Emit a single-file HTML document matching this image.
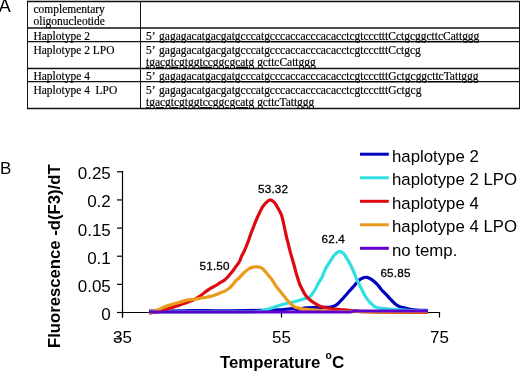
<!DOCTYPE html>
<html><head><meta charset="utf-8"><style>
html,body{margin:0;padding:0;background:#fff;width:520px;height:371px;overflow:hidden}
svg{display:block;will-change:transform}
</style></head><body>
<svg width="520" height="371" viewBox="0 0 520 371">
<rect width="520" height="371" fill="#fff"/>
<text x="-1.2" y="11.9" style="font-family:'Liberation Sans',sans-serif;font-size:18px" fill="#000">A</text>
<g stroke="#111" stroke-width="1" fill="none">
<line x1="27.0" y1="1.5" x2="520.0" y2="1.5" stroke-width="1.3"/>
<line x1="27.0" y1="28" x2="520.0" y2="28" stroke-width="1.3"/>
<line x1="27.0" y1="41.7" x2="520.0" y2="41.7" stroke-width="1.3"/>
<line x1="27.0" y1="68.5" x2="520.0" y2="68.5" stroke-width="1.3"/>
<line x1="27.0" y1="81.7" x2="520.0" y2="81.7" stroke-width="1.3"/>
<line x1="27.0" y1="108.5" x2="520.0" y2="108.5" stroke-width="1.3"/>
<line x1="27.5" y1="1.0" x2="27.5" y2="109.0" />
<line x1="519.5" y1="1.0" x2="519.5" y2="109.0" />
<line x1="140.5" y1="1.0" x2="140.5" y2="109.0" />
<line x1="27" y1="0.5" x2="520" y2="0.5" stroke="#bbb"/>
</g>
<g style="font-family:'Liberation Serif',serif;font-size:11.47px" fill="#000" stroke="#000" stroke-width="0.18">
<text x="33.5" y="12.8" >complementary</text>
<text x="33.5" y="24.6" >oligonucleotide</text>
<text x="33.5" y="40.0" >Haplotype 2</text>
<text x="33.5" y="53.7" >Haplotype 2 LPO</text>
<text x="33.5" y="80.1" >Haplotype 4</text>
<text x="33.5" y="94.0" >Haplotype 4&#160;&#160;LPO</text>
<text x="146.0" y="40.0">5’ <tspan dx="1.5" text-decoration="underline">gagagacatgacgatgcccatgcccaccacccacacctcgtccctttCctgcggcttcCattggg</tspan></text>
<text x="146.0" y="53.7">5’ <tspan dx="1.5">gagagacatgacgatgcccatgcccaccacccacacctcgtccctttCctgcg</tspan></text>
<text x="146.0" y="65.8"><tspan text-decoration="underline">tgacgtcgtggtccggcgcatg</tspan> gcttcCattggg</text>
<text x="146.0" y="80.1">5’ <tspan dx="1.5" text-decoration="underline">gagagacatgacgatgcccatgcccaccacccacacctcgtccctttGctgcggcttcTattggg</tspan></text>
<text x="146.0" y="94.0">5’ <tspan dx="1.5">gagagacatgacgatgcccatgcccaccacccacacctcgtccctttGctgcg</tspan></text>
<text x="146.0" y="106.2"><tspan text-decoration="underline">tgacgtcgtggtccggcgcatg</tspan> gcttcTattggg</text>
</g>
<line x1="113.8" y1="338.8" x2="122" y2="338.8" stroke="#000" stroke-width="1.2"/>
<text x="0.1" y="173.5" style="font-family:'Liberation Sans',sans-serif;font-size:17px" fill="#000">B</text>
<g stroke="#000" stroke-width="1.2" fill="none">
<line x1="122.5" y1="171" x2="122.5" y2="317.5"/>
<line x1="117" y1="312.5" x2="439.5" y2="312.5"/>
<line x1="117" y1="312.50" x2="122.5" y2="312.50"/>
<line x1="117" y1="284.36" x2="122.5" y2="284.36"/>
<line x1="117" y1="256.22" x2="122.5" y2="256.22"/>
<line x1="117" y1="228.08" x2="122.5" y2="228.08"/>
<line x1="117" y1="199.94" x2="122.5" y2="199.94"/>
<line x1="117" y1="171.80" x2="122.5" y2="171.80"/>
<line x1="122.5" y1="312" x2="122.5" y2="317.5"/>
<line x1="281.5" y1="312" x2="281.5" y2="317.5"/>
<line x1="439.5" y1="312" x2="439.5" y2="317.5"/>
</g>
<g style="font-family:'Liberation Sans',sans-serif;font-size:17px" fill="#000">
<text x="110.8" y="320.0" text-anchor="end">0</text>
<text x="110.8" y="291.9" text-anchor="end">0.05</text>
<text x="110.8" y="263.7" text-anchor="end">0.1</text>
<text x="110.8" y="235.6" text-anchor="end">0.15</text>
<text x="110.8" y="207.4" text-anchor="end">0.2</text>
<text x="110.8" y="179.3" text-anchor="end">0.25</text>
<text x="122.5" y="342.7" text-anchor="middle">35</text>
<text x="281.5" y="342.7" text-anchor="middle">55</text>
<text x="439.5" y="342.7" text-anchor="middle">75</text>
</g>
<g fill="none" stroke-width="3.2" stroke-linejoin="round" stroke-linecap="butt">
<path d="M149.0,311.0 C155.0,311.0 177.7,311.0 185.0,310.9 C192.3,310.8 188.0,310.6 193.0,310.6 C198.0,310.6 208.8,310.8 215.0,310.8 C221.2,310.8 222.5,310.9 230.0,310.8 C237.5,310.7 251.7,310.6 260.0,310.4 C268.3,310.2 274.6,310.1 280.0,309.8 C285.4,309.5 289.3,308.6 292.2,308.5 C295.1,308.4 294.9,309.4 297.3,309.3 C299.7,309.2 303.2,308.1 306.6,307.8 C310.1,307.5 314.1,307.6 318.0,307.5 C321.9,307.4 327.2,307.6 330.0,307.3 C332.8,307.0 333.6,306.3 335.0,305.6 C336.4,304.9 337.1,304.3 338.3,303.3 C339.5,302.3 340.8,300.7 342.0,299.4 C343.2,298.1 344.3,296.8 345.5,295.5 C346.7,294.2 347.8,292.8 349.0,291.5 C350.2,290.2 351.3,289.0 352.5,287.7 C353.7,286.4 354.9,284.9 356.0,283.6 C357.1,282.4 357.9,281.1 359.0,280.2 C360.1,279.2 361.5,278.4 362.8,277.9 C364.1,277.4 365.4,277.1 366.8,277.3 C368.2,277.5 369.7,278.2 371.4,279.3 C373.1,280.4 375.2,282.2 376.8,283.9 C378.4,285.5 379.5,287.4 381.1,289.2 C382.7,291.0 385.0,293.1 386.6,294.9 C388.2,296.6 389.4,298.2 390.9,299.7 C392.3,301.2 393.9,302.9 395.3,304.0 C396.8,305.1 398.2,306.0 399.6,306.6 C401.0,307.2 402.2,307.5 403.9,307.9 C405.6,308.3 407.8,308.8 410.0,309.2 C412.2,309.6 414.0,309.8 417.0,310.0 C420.0,310.2 426.2,310.4 428.0,310.5" stroke="#0000c0"/>
<path d="M149.0,311.9 C157.5,311.9 184.8,311.9 200.0,311.9 C215.2,311.9 231.3,311.9 240.0,311.9 C248.7,311.9 248.8,311.9 252.0,311.8 C255.2,311.7 257.0,311.5 259.0,311.3 C261.0,311.1 262.2,310.8 264.0,310.4 C265.8,309.9 267.8,309.3 270.0,308.6 C272.2,307.9 274.4,307.0 277.0,306.2 C279.6,305.4 281.9,304.7 285.4,303.8 C288.9,302.9 294.8,301.6 298.0,300.7 C301.2,299.8 302.9,299.3 304.9,298.6 C306.9,297.9 308.7,297.5 310.1,296.5 C311.5,295.5 312.2,294.2 313.2,292.7 C314.2,291.2 315.3,289.3 316.2,287.6 C317.1,285.9 317.9,284.2 318.8,282.5 C319.8,280.8 321.0,279.1 321.9,277.4 C322.8,275.7 323.1,274.2 323.9,272.5 C324.7,270.8 325.5,268.9 326.5,267.1 C327.5,265.3 328.9,263.3 330.1,261.5 C331.3,259.7 332.4,257.7 333.5,256.2 C334.6,254.7 335.9,253.4 337.0,252.6 C338.1,251.8 339.0,251.6 339.8,251.6 C340.6,251.6 341.3,251.9 342.0,252.3 C342.7,252.7 343.3,253.1 344.1,254.1 C344.9,255.1 345.8,256.6 346.7,258.2 C347.6,259.8 348.9,261.7 349.8,263.4 C350.7,265.1 351.5,266.8 352.3,268.5 C353.1,270.2 353.7,271.9 354.4,273.6 C355.1,275.3 355.7,277.2 356.4,278.7 C357.1,280.2 357.7,281.2 358.5,282.8 C359.3,284.4 360.3,286.4 361.2,288.2 C362.1,290.0 362.9,291.8 363.9,293.6 C364.9,295.4 365.8,297.1 367.1,298.9 C368.4,300.7 370.3,302.9 371.9,304.3 C373.5,305.8 374.8,306.9 376.8,307.6 C378.8,308.3 381.0,308.3 384.0,308.6 C387.0,308.9 390.7,309.2 395.0,309.5 C399.3,309.8 404.5,310.2 410.0,310.5 C415.5,310.8 425.0,310.9 428.0,311.0" stroke="#30e0e0"/>
<path d="M149.0,313.0 C150.2,312.8 153.8,312.4 156.0,312.0 C158.2,311.6 160.4,310.9 162.4,310.4 C164.4,309.8 166.1,309.3 168.0,308.7 C169.9,308.1 172.0,307.5 173.9,306.9 C175.8,306.3 177.8,305.6 179.7,305.0 C181.6,304.4 183.8,303.6 185.5,303.0 C187.2,302.4 188.6,301.9 190.0,301.3 C191.4,300.7 192.3,300.5 194.0,299.6 C195.7,298.8 198.2,297.4 200.0,296.2 C201.8,295.0 203.3,293.5 204.9,292.3 C206.5,291.1 208.1,289.8 209.7,288.8 C211.3,287.8 213.0,287.1 214.6,286.2 C216.2,285.3 217.8,284.2 219.4,283.2 C221.0,282.2 222.7,281.5 224.3,280.2 C225.9,278.9 227.7,277.1 229.1,275.5 C230.5,273.9 231.9,272.1 233.0,270.7 C234.1,269.3 234.4,268.6 235.4,267.2 C236.4,265.8 238.1,264.1 239.1,262.3 C240.1,260.5 240.7,258.2 241.5,256.4 C242.3,254.6 243.2,253.2 244.0,251.5 C244.8,249.8 245.4,248.4 246.2,246.5 C247.0,244.6 247.9,242.2 248.7,240.0 C249.5,237.8 250.2,235.3 251.1,233.0 C252.0,230.7 253.1,228.0 253.9,226.0 C254.7,224.0 254.9,223.1 255.8,221.0 C256.7,218.9 258.2,215.6 259.3,213.3 C260.4,211.0 261.3,208.9 262.4,207.2 C263.5,205.5 264.5,204.1 265.8,202.9 C267.1,201.7 268.9,199.9 270.3,199.8 C271.7,199.7 273.2,201.2 274.3,202.3 C275.4,203.4 276.0,204.9 276.9,206.3 C277.8,207.7 278.7,209.3 279.5,210.9 C280.3,212.5 281.1,213.9 281.8,216.0 C282.5,218.1 283.1,221.2 283.6,223.5 C284.1,225.8 284.5,227.8 285.0,230.0 C285.5,232.2 285.8,234.0 286.4,236.6 C287.0,239.2 287.9,242.4 288.6,245.3 C289.3,248.2 290.2,251.5 290.8,253.9 C291.4,256.3 291.8,257.4 292.4,259.5 C293.0,261.6 293.8,264.0 294.5,266.6 C295.2,269.2 295.9,272.4 296.8,275.3 C297.7,278.2 298.7,281.5 299.6,283.9 C300.5,286.3 301.4,287.7 302.3,289.5 C303.2,291.3 304.2,293.3 305.3,294.9 C306.4,296.5 307.5,297.9 309.2,299.3 C310.9,300.8 313.3,302.4 315.3,303.6 C317.3,304.9 318.9,306.0 321.3,306.8 C323.8,307.6 326.9,308.1 330.0,308.5 C333.1,308.9 336.7,309.2 340.0,309.5 C343.3,309.8 345.0,310.1 350.0,310.5 C355.0,310.9 357.0,311.7 370.0,312.0 C383.0,312.3 418.3,312.4 428.0,312.5" stroke="#dd0a12"/>
<path d="M149.0,313.5 C149.5,313.3 150.7,312.8 152.0,312.3 C153.3,311.8 154.9,311.0 156.6,310.3 C158.3,309.6 160.1,308.9 162.0,308.1 C163.9,307.3 165.2,306.5 168.1,305.5 C171.0,304.5 176.4,303.1 179.7,302.2 C183.0,301.3 185.5,300.3 187.8,299.9 C190.1,299.4 191.6,299.8 193.6,299.5 C195.6,299.2 197.9,298.7 200.0,298.3 C202.1,297.9 203.8,297.7 206.0,297.3 C208.2,296.9 210.7,296.5 212.9,295.8 C215.1,295.1 217.5,293.9 219.4,293.2 C221.3,292.5 222.7,292.2 224.3,291.4 C225.9,290.6 227.7,289.6 229.1,288.4 C230.5,287.2 231.8,285.6 233.0,284.3 C234.2,283.0 234.8,281.7 236.0,280.5 C237.2,279.3 238.6,278.4 240.0,277.0 C241.4,275.6 242.9,273.6 244.3,272.3 C245.7,271.0 247.2,269.9 248.6,269.0 C250.0,268.1 251.4,267.5 252.9,267.1 C254.4,266.7 255.9,266.7 257.3,266.8 C258.8,266.9 260.2,267.0 261.6,267.9 C263.0,268.8 264.7,270.8 265.9,272.2 C267.1,273.6 267.8,274.6 268.9,276.0 C270.0,277.4 271.7,279.3 272.8,280.9 C273.9,282.5 274.6,284.1 275.7,285.7 C276.8,287.3 278.3,289.0 279.6,290.6 C280.9,292.2 282.2,293.8 283.5,295.4 C284.8,297.0 286.1,298.8 287.4,300.3 C288.7,301.8 289.9,303.1 291.2,304.2 C292.5,305.3 294.0,306.5 295.1,307.1 C296.2,307.7 296.7,307.6 298.0,307.9 C299.3,308.2 301.0,308.7 303.0,309.0 C305.0,309.3 307.2,309.4 310.0,309.7 C312.8,309.9 315.0,310.2 320.0,310.5 C325.0,310.8 322.0,311.2 340.0,311.5 C358.0,311.8 413.3,311.9 428.0,312.0" stroke="#ec9a1a"/>
<path d="M149,312 L351,311.9 L354,311.1 L428,311.1" stroke="#6000d0" stroke-width="3"/>
</g>
<g style="font-family:'Liberation Sans',sans-serif;font-size:16.8px" fill="#000">
<line x1="360" y1="154.2" x2="388.8" y2="154.2" stroke="#0000c0" stroke-width="3"/>
<text x="392" y="161.7">haplotype 2</text>
<line x1="360" y1="177.8" x2="388.8" y2="177.8" stroke="#30e0e0" stroke-width="3"/>
<text x="392" y="185.3">haplotype 2 LPO</text>
<line x1="360" y1="201.3" x2="388.8" y2="201.3" stroke="#dd0a12" stroke-width="3"/>
<text x="392" y="208.8">haplotype 4</text>
<line x1="360" y1="224.8" x2="388.8" y2="224.8" stroke="#ec9a1a" stroke-width="3"/>
<text x="392" y="232.3">haplotype 4 LPO</text>
<line x1="360" y1="248.3" x2="388.8" y2="248.3" stroke="#6000d0" stroke-width="3"/>
<text x="392" y="255.8">no temp.</text>
</g>
<g style="font-family:'Liberation Sans',sans-serif;font-size:11.7px;letter-spacing:0.2px" fill="#000" stroke="#000" stroke-width="0.3">
<text x="258" y="193.1">53.32</text>
<text x="199.5" y="269.5">51.50</text>
<text x="321.5" y="243">62.4</text>
<text x="380.4" y="277">65.85</text>
</g>
<text transform="translate(60,256.2) rotate(-90)" text-anchor="middle" style="font-family:'Liberation Sans',sans-serif;font-size:16.7px;font-weight:bold" fill="#000">Fluorescence -d(F3)/dT</text>
<g style="font-family:'Liberation Sans',sans-serif;font-weight:bold" fill="#000"><text x="219.9" y="367.7" style="font-size:16.8px">Temperature</text><text x="325.6" y="358.8" style="font-size:10.3px">o</text><text x="331.9" y="367.7" style="font-size:17px">C</text></g>
</svg>
</body></html>
